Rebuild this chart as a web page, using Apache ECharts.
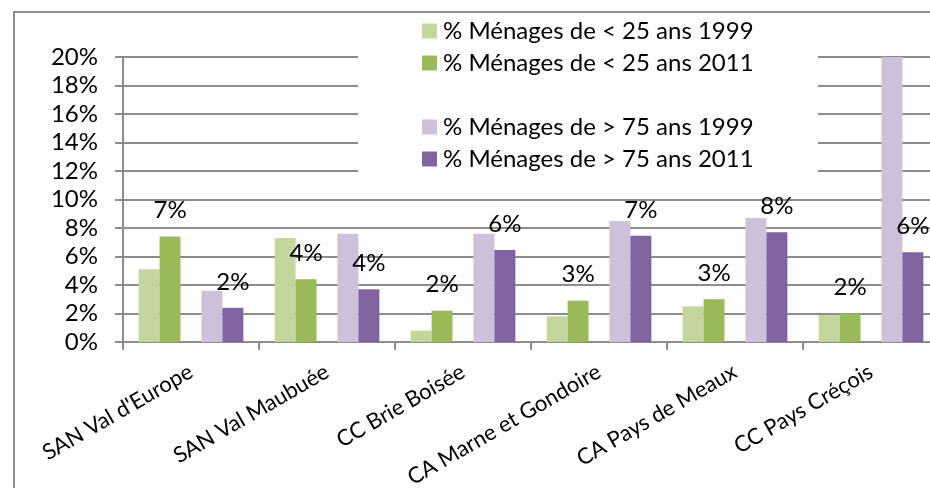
<!DOCTYPE html>
<html lang="fr">
<head>
  <meta charset="UTF-8">
  <title>Ménages de moins de 25 ans et de plus de 75 ans</title>
  <script src="https://cdn.jsdelivr.net/npm/echarts@6/dist/echarts.min.js"></script>
  <style>
    html, body { margin: 0; padding: 0; background: #fff; }
    #chart { width: 930px; height: 488px; }
  </style>
</head>
<body>
  <div id="chart"></div>
<script>
  // catégories (intercommunalités)
  const categories = ['SAN Val d\'Europe', 'SAN Val Maubuée', 'CC Brie Boisée',
    'CA Marne et Gondoire', 'CA Pays de Meaux', 'CC Pays Créçois'];

  // valeurs en %
  const moins25_1999 = [5.1, 7.3, 0.8, 1.8, 2.5, 1.9];
  const moins25_2011 = [7.4, 4.4, 2.2, 2.9, 3.0, 2.0];
  const plus75_1999 = [3.6, 7.6, 7.6, 8.5, 8.7, 21];
  const plus75_2011 = [2.4, 3.7, 6.45, 7.45, 7.7, 6.3];

  const yTicks = [0, 2, 4, 6, 8, 10, 12, 14, 16, 18, 20];

  const FONT = 'Lato';
  const grey = '#8c8c8c';

  const chart = echarts.init(document.getElementById('chart'));

  const labelTop = {
    show: true,
    position: 'top',
    distance: 14,
    color: '#000',
    fontFamily: FONT,
    fontSize: 24,
    formatter: p => Math.round(p.value) + '%'
  };

  function barSerie(name, data, color, label) {
    return {
      name: name,
      type: 'bar',
      data: data,
      barGap: '0%',
      barCategoryGap: '23%',
      itemStyle: { color: color },
      label: label || { show: false },
      emphasis: { disabled: true }
    };
  }

  const option = {
    animation: false,
    textStyle: { fontFamily: FONT },
    grid: { left: 123, top: 57, width: 816, height: 285, containLabel: false, outerBoundsMode: 'none' },
    legend: {
      orient: 'vertical',
      left: 422,
      top: 19,
      padding: 0,
      itemWidth: 15,
      itemHeight: 15,
      itemGap: 8,
      selectedMode: false,
      icon: 'rect',
      textStyle: { fontFamily: FONT, fontSize: 24, color: '#000', padding: [0, 0, 0, 1] },
      z: 10
    },
    xAxis: {
      type: 'category',
      data: categories,
      axisLine: { lineStyle: { color: grey, width: 2 } },
      axisTick: { show: true, length: 8, lineStyle: { color: grey, width: 2 } },
      axisLabel: { rotate: 30, margin: 28, color: '#000', fontFamily: FONT, fontSize: 22, interval: 0 }
    },
    yAxis: {
      type: 'value',
      min: yTicks[0],
      max: yTicks[yTicks.length - 1],
      interval: 2,
      axisLine: { show: true, lineStyle: { color: grey, width: 2 } },
      axisTick: { show: true, length: 8, lineStyle: { color: grey, width: 2 } },
      splitLine: { lineStyle: { color: grey, width: 2 } },
      axisLabel: { formatter: '{value}%', margin: 25, color: '#000', fontFamily: FONT, fontSize: 24 }
    },
    graphic: [
      {
        type: 'rect',
        z: 5,
        shape: { x: 358, y: 14, width: 460, height: 172 },
        style: { fill: '#fff' }
      },
      {
        type: 'rect',
        z: 20,
        shape: { x: 14, y: 12, width: 940, height: 500 },
        style: { fill: 'none', stroke: grey, lineWidth: 2 }
      }
    ],
    series: [
      barSerie('% Ménages de < 25 ans 1999', moins25_1999, '#c3d69b'),
      barSerie('% Ménages de < 25 ans 2011', moins25_2011, '#9bbb59', labelTop),
      barSerie(' ', categories.map(() => null), 'rgba(0,0,0,0)'),
      barSerie('% Ménages de > 75 ans 1999', plus75_1999, '#ccc0da'),
      barSerie('% Ménages de > 75 ans 2011', plus75_2011, '#8064a2', labelTop)
    ]
  };

  chart.setOption(option);
</script>
</body>
</html>
